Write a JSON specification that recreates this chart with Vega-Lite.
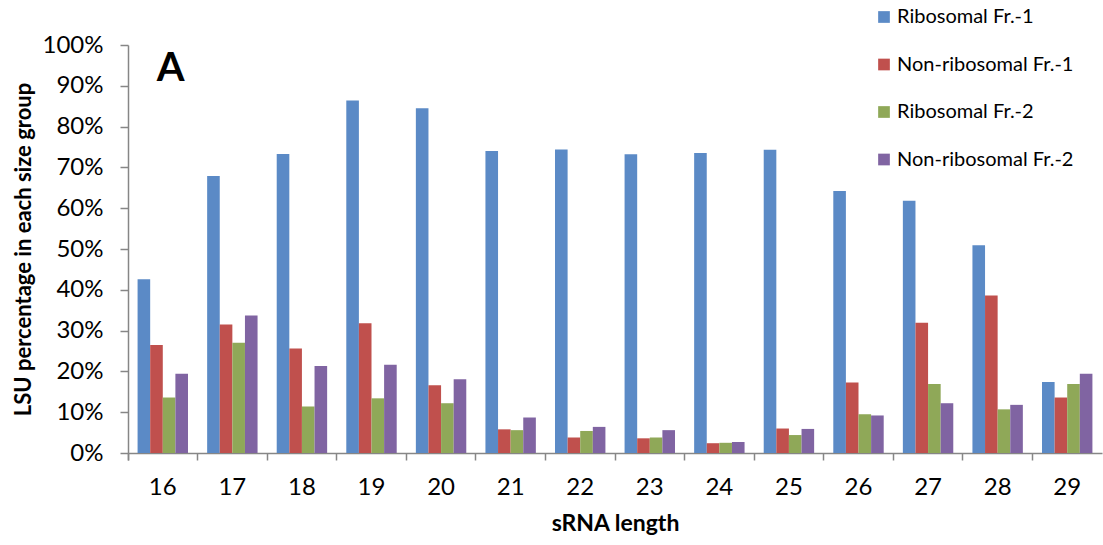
{
  "$schema": "https://vega.github.io/schema/vega-lite/v6.json",
  "width": 974,
  "height": 408,
  "autosize": "none",
  "padding": {"left": 128, "top": 45, "right": 1, "bottom": 92},
  "background": "white",
  "config": {
    "font": "Lato",
    "view": {"stroke": null},
    "axis": {"grid": false, "domainColor": "#868686", "tickColor": "#868686", "domainWidth": 1.5, "tickWidth": 1.5, "labelColor": "#000000", "titleColor": "#000000"}
  },
  "datasets": {
    "lsu": [
      {"length": 16, "fraction": "Ribosomal Fr.-1", "value": 0.426},
      {"length": 16, "fraction": "Non-ribosomal Fr.-1", "value": 0.265},
      {"length": 16, "fraction": "Ribosomal Fr.-2", "value": 0.136},
      {"length": 16, "fraction": "Non-ribosomal Fr.-2", "value": 0.194},
      {"length": 17, "fraction": "Ribosomal Fr.-1", "value": 0.679},
      {"length": 17, "fraction": "Non-ribosomal Fr.-1", "value": 0.315},
      {"length": 17, "fraction": "Ribosomal Fr.-2", "value": 0.270},
      {"length": 17, "fraction": "Non-ribosomal Fr.-2", "value": 0.337},
      {"length": 18, "fraction": "Ribosomal Fr.-1", "value": 0.733},
      {"length": 18, "fraction": "Non-ribosomal Fr.-1", "value": 0.256},
      {"length": 18, "fraction": "Ribosomal Fr.-2", "value": 0.114},
      {"length": 18, "fraction": "Non-ribosomal Fr.-2", "value": 0.213},
      {"length": 19, "fraction": "Ribosomal Fr.-1", "value": 0.864},
      {"length": 19, "fraction": "Non-ribosomal Fr.-1", "value": 0.318},
      {"length": 19, "fraction": "Ribosomal Fr.-2", "value": 0.134},
      {"length": 19, "fraction": "Non-ribosomal Fr.-2", "value": 0.216},
      {"length": 20, "fraction": "Ribosomal Fr.-1", "value": 0.845},
      {"length": 20, "fraction": "Non-ribosomal Fr.-1", "value": 0.166},
      {"length": 20, "fraction": "Ribosomal Fr.-2", "value": 0.122},
      {"length": 20, "fraction": "Non-ribosomal Fr.-2", "value": 0.181},
      {"length": 21, "fraction": "Ribosomal Fr.-1", "value": 0.740},
      {"length": 21, "fraction": "Non-ribosomal Fr.-1", "value": 0.058},
      {"length": 21, "fraction": "Ribosomal Fr.-2", "value": 0.056},
      {"length": 21, "fraction": "Non-ribosomal Fr.-2", "value": 0.087},
      {"length": 22, "fraction": "Ribosomal Fr.-1", "value": 0.744},
      {"length": 22, "fraction": "Non-ribosomal Fr.-1", "value": 0.038},
      {"length": 22, "fraction": "Ribosomal Fr.-2", "value": 0.054},
      {"length": 22, "fraction": "Non-ribosomal Fr.-2", "value": 0.064},
      {"length": 23, "fraction": "Ribosomal Fr.-1", "value": 0.732},
      {"length": 23, "fraction": "Non-ribosomal Fr.-1", "value": 0.036},
      {"length": 23, "fraction": "Ribosomal Fr.-2", "value": 0.038},
      {"length": 23, "fraction": "Non-ribosomal Fr.-2", "value": 0.056},
      {"length": 24, "fraction": "Ribosomal Fr.-1", "value": 0.735},
      {"length": 24, "fraction": "Non-ribosomal Fr.-1", "value": 0.024},
      {"length": 24, "fraction": "Ribosomal Fr.-2", "value": 0.025},
      {"length": 24, "fraction": "Non-ribosomal Fr.-2", "value": 0.027},
      {"length": 25, "fraction": "Ribosomal Fr.-1", "value": 0.743},
      {"length": 25, "fraction": "Non-ribosomal Fr.-1", "value": 0.060},
      {"length": 25, "fraction": "Ribosomal Fr.-2", "value": 0.044},
      {"length": 25, "fraction": "Non-ribosomal Fr.-2", "value": 0.059},
      {"length": 26, "fraction": "Ribosomal Fr.-1", "value": 0.642},
      {"length": 26, "fraction": "Non-ribosomal Fr.-1", "value": 0.173},
      {"length": 26, "fraction": "Ribosomal Fr.-2", "value": 0.095},
      {"length": 26, "fraction": "Non-ribosomal Fr.-2", "value": 0.092},
      {"length": 27, "fraction": "Ribosomal Fr.-1", "value": 0.618},
      {"length": 27, "fraction": "Non-ribosomal Fr.-1", "value": 0.319},
      {"length": 27, "fraction": "Ribosomal Fr.-2", "value": 0.169},
      {"length": 27, "fraction": "Non-ribosomal Fr.-2", "value": 0.122},
      {"length": 28, "fraction": "Ribosomal Fr.-1", "value": 0.509},
      {"length": 28, "fraction": "Non-ribosomal Fr.-1", "value": 0.386},
      {"length": 28, "fraction": "Ribosomal Fr.-2", "value": 0.107},
      {"length": 28, "fraction": "Non-ribosomal Fr.-2", "value": 0.118},
      {"length": 29, "fraction": "Ribosomal Fr.-1", "value": 0.174},
      {"length": 29, "fraction": "Non-ribosomal Fr.-1", "value": 0.136},
      {"length": 29, "fraction": "Ribosomal Fr.-2", "value": 0.169},
      {"length": 29, "fraction": "Non-ribosomal Fr.-2", "value": 0.194}
    ],
    "panel": [{"tag": "A"}]
  },
  "layer": [
    {
      "data": {"name": "lsu"},
      "mark": {"type": "bar"},
      "encoding": {
        "x": {
          "field": "length",
          "type": "ordinal",
          "scale": {"paddingInner": 0, "paddingOuter": 0},
          "axis": {
            "title": "sRNA length",
            "labelAngle": 0,
            "labelFontSize": 24,
            "labelPadding": 15,
            "tickSize": 7,
            "bandPosition": 0,
            "tickExtra": true,
            "titleFontSize": 23,
            "titleFontWeight": "bold",
            "titlePadding": 13
          }
        },
        "xOffset": {
          "field": "fraction",
          "type": "nominal",
          "sort": ["Ribosomal Fr.-1", "Non-ribosomal Fr.-1", "Ribosomal Fr.-2", "Non-ribosomal Fr.-2"],
          "scale": {"paddingInner": 0, "paddingOuter": 0.76}
        },
        "y": {
          "field": "value",
          "type": "quantitative",
          "scale": {"domain": [0, 1], "nice": false},
          "axis": {
            "title": "LSU percentage in each size group",
            "format": ".0%",
            "values": [0, 0.1, 0.2, 0.3, 0.4, 0.5, 0.6, 0.7, 0.8, 0.9, 1],
            "labelFontSize": 24,
            "labelPadding": 17,
            "tickSize": 8,
            "titleFontSize": 22,
            "titleFontWeight": "bold",
            "titlePadding": 7
          }
        },
        "color": {
          "field": "fraction",
          "type": "nominal",
          "sort": ["Ribosomal Fr.-1", "Non-ribosomal Fr.-1", "Ribosomal Fr.-2", "Non-ribosomal Fr.-2"],
          "scale": {
            "domain": ["Ribosomal Fr.-1", "Non-ribosomal Fr.-1", "Ribosomal Fr.-2", "Non-ribosomal Fr.-2"],
            "range": ["#5B8AC6", "#C0504D", "#8FA858", "#8064A2"]
          },
          "legend": {
            "title": null,
            "orient": "none",
            "legendX": 746,
            "legendY": -38,
            "symbolType": "square",
            "symbolSize": 137,
            "symbolStrokeWidth": 0,
            "labelFontSize": 20,
            "labelOffset": 3,
            "labelLimit": 400,
            "rowPadding": 27.5,
            "labelColor": "#000000"
          }
        }
      }
    },
    {
      "data": {"name": "panel"},
      "mark": {"type": "text", "align": "left", "baseline": "alphabetic", "fontSize": 40, "fontWeight": "bold", "dx": -6, "dy": -2, "color": "#000000"},
      "encoding": {
        "x": {"datum": 16, "type": "ordinal"},
        "y": {"datum": 0.907, "type": "quantitative"},
        "text": {"field": "tag"}
      }
    }
  ]
}
